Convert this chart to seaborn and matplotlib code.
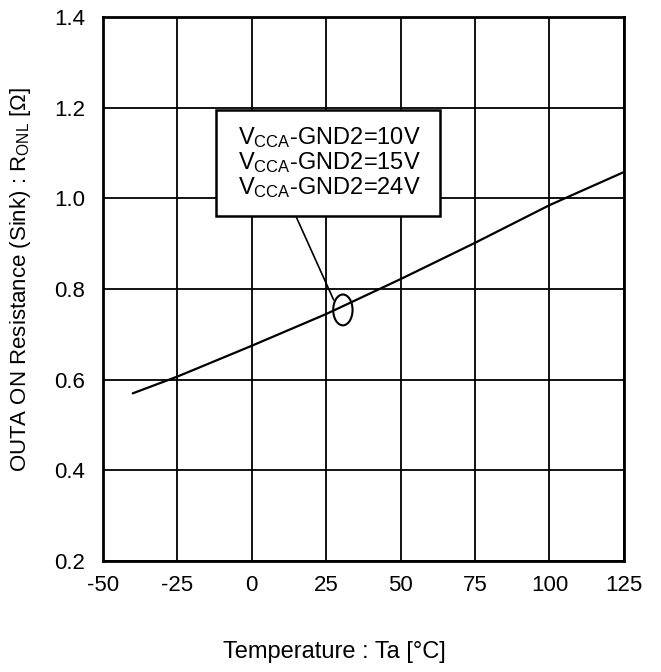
import numpy as np
import pandas as pd
import matplotlib
matplotlib.use('Agg')
import matplotlib.pyplot as plt
from matplotlib.patches import Ellipse, Rectangle
import seaborn as sns

# данные
temperature = [-40, -25, 0, 25, 50, 75, 100, 125]
r_onl = [0.570, 0.607, 0.675, 0.745, 0.822, 0.902, 0.985, 1.058]
conditions = ['10V', '15V', '24V']

x_ticks = [-50, -25, 0, 25, 50, 75, 100, 125]
y_ticks = [0.2, 0.4, 0.6, 0.8, 1.0, 1.2, 1.4]

sns.set_style('white')
plt.rcParams['font.family'] = ['Liberation Sans', 'DejaVu Sans']
plt.rcParams['mathtext.fontset'] = 'custom'
plt.rcParams['mathtext.rm'] = 'Liberation Sans'
plt.rcParams['text.color'] = 'black'
plt.rcParams['axes.labelcolor'] = 'black'

df = pd.DataFrame({'Ta': temperature, 'R': r_onl})

fig = plt.figure(figsize=(6.61, 6.72), dpi=100)
ax = fig.add_axes([0.1558, 0.165, 0.788, 0.8097])
sns.lineplot(data=df, x='Ta', y='R', color='black', lw=1.6, ax=ax)

ax.set_xlim(-50, 125)
ax.set_ylim(0.2, 1.4)
ax.set_xticks(x_ticks)
ax.set_yticks(y_ticks)
ax.set_xticklabels([str(t) for t in x_ticks])
ax.set_yticklabels([f'{t:.1f}' for t in y_ticks])
ax.grid(True, color='black', lw=1.3)
ax.set_axisbelow(True)
for s in ax.spines.values():
    s.set_color('black'); s.set_linewidth(2)
ax.tick_params(axis='x', length=0, labelsize=16, pad=10, colors='black')
ax.tick_params(axis='y', length=0, labelsize=16, pad=13, colors='black')

ax.set_xlabel('Temperature : Ta [°C]', fontsize=17)
ax.xaxis.set_label_coords(0.445, -0.147)
ax.set_ylabel(r'OUTA ON Resistance (Sink) : R$_{\mathregular{ONL}}$ [Ω]',
              fontsize=16)
ax.yaxis.set_label_coords(-0.134, 0.517)

# подпись условий
ax.add_patch(Rectangle((-12, 0.961), 75.2, 0.234, fc='white', ec='black',
                       lw=1.8, zorder=5))
for yy, c in zip([1.135, 1.080, 1.024], conditions):
    ax.text(-4.6, yy, r'$\mathregular{V_{CCA}}$-GND2=' + c, fontsize=17,
            ha='left', va='center', zorder=6)
ax.add_patch(Ellipse((30.6, 0.754), 6.5, 0.068, fill=False, ec='black',
                     lw=1.5, zorder=4))
ax.plot([14.8, 27.5], [0.961, 0.776], color='black', lw=1.2, zorder=4)

plt.savefig('out.png', dpi=100)
plt.close()
